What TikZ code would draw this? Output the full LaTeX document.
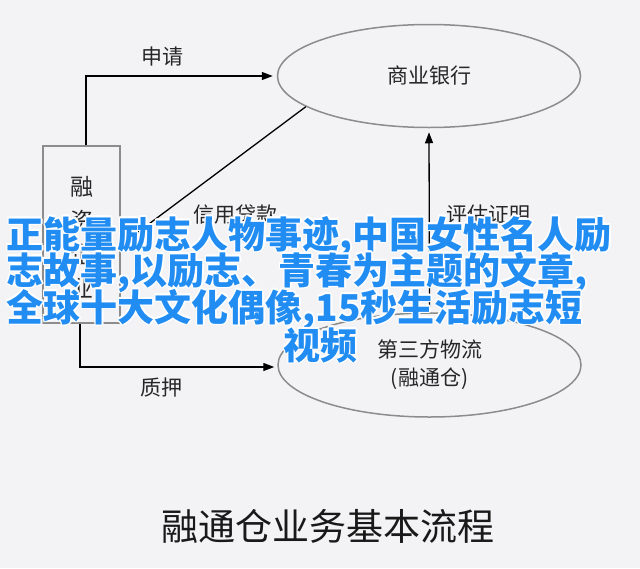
\documentclass[tikz,border=0pt]{standalone}
\usepackage{fontspec}
\setmainfont{Noto Sans CJK SC}
\usetikzlibrary{arrows.meta,calc,shapes.geometric}
\definecolor{bgcol}{RGB}{243,242,245}
\definecolor{edgegray}{RGB}{140,140,140}
\definecolor{labelgray}{RGB}{38,38,38}
\definecolor{titlecol}{RGB}{25,25,25}
\definecolor{overblue}{RGB}{33,141,243}
\newcommand\wofs{1.6pt}
\newcommand\wdiag{1.15pt}
\newcommand\outlinedtext[1]{\leavevmode
 \rlap{\color{white}\hspace{\wofs}#1}%
 \rlap{\color{white}\hspace{-\wofs}#1}%
 \rlap{\color{white}\raisebox{\wofs}{#1}}%
 \rlap{\color{white}\raisebox{-\wofs}{#1}}%
 \rlap{\color{white}\hspace{\wdiag}\raisebox{\wdiag}{#1}}%
 \rlap{\color{white}\hspace{-\wdiag}\raisebox{\wdiag}{#1}}%
 \rlap{\color{white}\hspace{\wdiag}\raisebox{-\wdiag}{#1}}%
 \rlap{\color{white}\hspace{-\wdiag}\raisebox{-\wdiag}{#1}}%
 {\color{overblue}#1}}
\tikzset{
 ellnode/.style={ellipse, draw=edgegray, line width=1.5pt, minimum width=303pt,
   minimum height=103pt, inner sep=0pt, font=\fontsize{21}{28}\selectfont,
   text=labelgray, align=center},
 firmbox/.style={rectangle, draw=edgegray, line width=1.5pt, minimum width=77pt,
   minimum height=177pt, inner sep=0pt},
 labeltext/.style={font=\fontsize{21}{21}\selectfont, text=labelgray, inner sep=0pt},
 flow/.style={draw=black, line width=1.3pt, -{Triangle[length=11pt,width=8pt]}},
 overtext/.style={anchor=base west, inner sep=0pt, font=\bfseries\fontsize{37}{37}\selectfont}
}
\begin{document}
\begin{tikzpicture}[x=1pt,y=-1pt]
\fill[bgcol] (0,0) rectangle (640,568);
\useasboundingbox (0,0) rectangle (640,568);
% nodes
\node[ellnode] (bank) at (429,76) {商业银行};
\node[ellnode, minimum height=104pt] (logi) at (429.5,365) {第三方物流\\(融通仓)};
\node[firmbox] (firm) at (81.5,234.5) {};
\node[align=center, inner sep=0pt, text=labelgray, font=\fontsize{23}{34}\selectfont] (firmtext) at (81.5,237.5) {融\\资\\企\\业};
% connectors
\draw[flow, shorten >=4pt] ($(firm.north)+(4.5,0)$) |- (bank.west);
\draw[flow, shorten >=3pt] ($(firm.south)+(-1.5,0)$) |- ($(logi.west)+(0,2)$);
\draw[flow, shorten >=4pt] (logi.north) -- (bank.south);
\draw[flow] (bank.194.6) -- ($(firm.east)+(0,10.5)$);
% labels
\node[labeltext] (lapply) at (162,57) {申请};
\node[labeltext] (lcredit) at (235,215) {信用贷款};
\node[labeltext] (leval) at (488,215) {评估证明};
\node[labeltext] (lpledge) at (161,388) {质押};
\node[inner sep=0pt, text=titlecol, font=\fontsize{37}{37}\selectfont] (title) at (328,526) {融通仓业务基本流程};
% overlay text
\node[overtext] (ov1) at (6.5,248) {\outlinedtext{正能量励志人物事迹,中国女性名人励}};
\node[overtext] (ov2) at (6.5,284) {\outlinedtext{志故事,以励志、青春为主题的文章,}};
\node[overtext] (ov3) at (6.5,321) {\outlinedtext{全球十大文化偶像,15秒生活励志短}};
\node[overtext] (ov4) at (283.5,359) {\outlinedtext{视频}};
\end{tikzpicture}
\end{document}
